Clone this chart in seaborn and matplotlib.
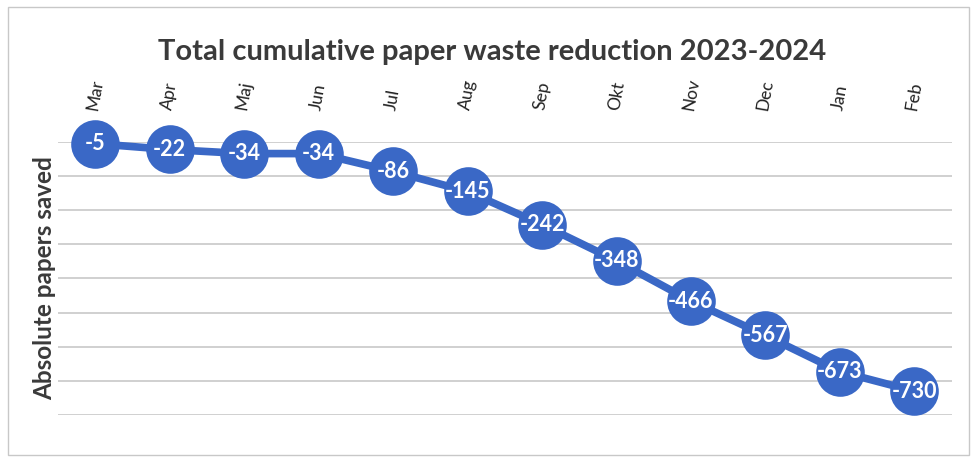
import matplotlib
matplotlib.use("Agg")
import matplotlib.pyplot as plt
from matplotlib.patches import Rectangle
import seaborn as sns
import pandas as pd

months = ["Mar", "Apr", "Maj", "Jun", "Jul", "Aug", "Sep", "Okt", "Nov", "Dec", "Jan", "Feb"]
papers_saved = [-5, -22, -34, -34, -86, -145, -242, -348, -466, -567, -673, -730]
grid_ticks = [0, -100, -200, -300, -400, -500, -600, -700, -800]

df = pd.DataFrame({"month": months, "saved": papers_saved})

sns.set_theme(style="white")
plt.rcParams["font.family"] = ["Lato", "DejaVu Sans"]

blue = "#3A68C6"
text_grey = "#3a3a3a"

fig = plt.figure(figsize=(9.75, 4.61), dpi=100)
ax = fig.add_axes([0.0595, 0.0998, 0.9165, 0.5922])

sns.lineplot(data=df, x="month", y="saved", sort=False, ax=ax,
             color=blue, linewidth=5.5, marker="o", markersize=35,
             markeredgewidth=0, markerfacecolor=blue, zorder=3)
for ln in ax.get_lines():
    ln.set_clip_on(False)

for i, v in enumerate(papers_saved):
    ax.text(i, v, f"{v}", ha="center", va="center", color="white",
            fontsize=15.5, fontweight="bold", zorder=4)

ax.set_xlim(-0.5, len(months) - 0.5)
ax.set_ylim(grid_ticks[-1], grid_ticks[0])
ax.set_yticks(grid_ticks)
ax.set_yticklabels([])
ax.tick_params(axis="y", length=0)
ax.grid(axis="y", color="#c4c4c4", linewidth=1.1, zorder=0)
ax.grid(axis="x", visible=False)

ax.xaxis.tick_top()
ax.tick_params(axis="x", length=0, pad=22, labelsize=12.5, labelcolor="#222222")
plt.setp(ax.get_xticklabels(), rotation=80, ha="center", va="bottom")
ax.set_xlabel("")
ax.set_ylabel("Absolute papers saved", fontsize=17.5, fontweight="bold",
              color=text_grey, labelpad=-2)

for s in ax.spines.values():
    s.set_visible(False)

fig.text(0.505, 0.888, "Total cumulative paper waste reduction 2023-2024",
         ha="center", va="center", fontsize=21, fontweight="bold", color=text_grey)

fig.patches.append(Rectangle((0.008, 0.012), 0.986, 0.972, transform=fig.transFigure,
                             fill=False, edgecolor="#c8c8c8", linewidth=1.0))

fig.savefig("out.png", dpi=100)
